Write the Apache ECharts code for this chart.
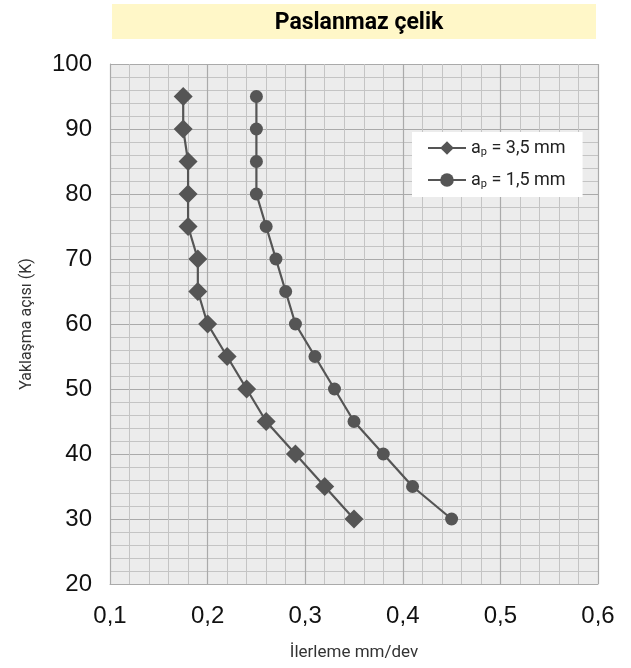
<!DOCTYPE html>
<html>
<head>
<meta charset="utf-8">
<script src="https://cdn.jsdelivr.net/npm/echarts@6/dist/echarts.min.js"></script>
<style>
  html, body { margin: 0; padding: 0; background: #fff; }
  #chart { width: 631px; height: 668px; }
</style>
</head>
<body>
<div id="chart"></div>
<script>
// yaklasma acisi (K)
var angles = [95, 90, 85, 80, 75, 70, 65, 60, 55, 50, 45, 40, 35, 30];
// ilerleme mm/dev
var feed35 = [0.175, 0.175, 0.18, 0.18, 0.18, 0.19, 0.19, 0.2, 0.22, 0.24, 0.26, 0.29, 0.32, 0.35];
var feed15 = [0.25, 0.25, 0.25, 0.25, 0.26, 0.27, 0.28, 0.29, 0.31, 0.33, 0.35, 0.38, 0.41, 0.45];
var seriesNames = ['ap35', 'ap15'];
var legendTexts = { ap35: ' = 3,5 mm', ap15: ' = 1,5 mm' };

var narrow = "Roboto, 'Liberation Sans', sans-serif";
var tickFont = "'Liberation Sans', Arial, sans-serif";

function pairs(xs) {
    var out = [];
    for (var i = 0; i < xs.length; i++) {
        out.push([xs[i], angles[i]]);
    }
    return out;
}

var chart = echarts.init(document.getElementById('chart'));

var option = {
    animation: false,
    backgroundColor: '#fff',
    title: {
        text: 'Paslanmaz çelik',
        left: 354,
        textAlign: 'center',
        top: 7,
        textStyle: { fontFamily: narrow, fontWeight: 'bold', fontSize: 23, color: '#000' }
    },
    graphic: [{
        type: 'rect',
        z: -1,
        shape: { x: 112, y: 4, width: 484, height: 35 },
        style: { fill: '#fff7c8' }
    }],
    grid: {
        left: 110, right: 33, top: 64, bottom: 84,
        show: true, backgroundColor: '#ececec', borderWidth: 0
    },
    legend: {
        orient: 'vertical',
        left: 412, top: 132,
        backgroundColor: '#fff',
        padding: [7, 17, 7, 15],
        itemWidth: 38, itemHeight: 17,
        itemGap: 13,
        data: seriesNames,
        formatter: function (name) {
            return '{a|a}{s|p}{a|' + legendTexts[name] + '}';
        },
        textStyle: {
            rich: {
                a: { fontFamily: narrow, fontSize: 18, color: '#222' },
                s: { fontFamily: narrow, fontSize: 11, color: '#222', verticalAlign: 'bottom', padding: [9, 0, 0, 0] }
            }
        }
    },
    xAxis: {
        type: 'value',
        min: 0.1, max: 0.6, interval: 0.1,
        name: 'İlerleme mm/dev',
        nameLocation: 'middle',
        nameGap: 60,
        nameTextStyle: { fontFamily: narrow, fontSize: 17, color: '#333' },
        axisLine: { show: true, onZero: false, lineStyle: { color: '#aaa' } },
        axisTick: { show: false },
        axisLabel: {
            margin: 20,
            fontFamily: tickFont, fontSize: 24, color: '#111',
            formatter: function (v) { return v.toFixed(1).replace('.', ','); }
        },
        splitLine: { show: true, lineStyle: { color: '#aaa', width: 1.2 } },
        minorTick: { show: false, splitNumber: 5 },
        minorSplitLine: { show: true, lineStyle: { color: '#c4c4c4', width: 1 } }
    },
    yAxis: {
        type: 'value',
        min: 20, max: 100, interval: 10,
        name: 'Yaklaşma açısı (K)',
        nameLocation: 'middle',
        nameGap: 75,
        nameRotate: 90,
        nameTextStyle: { fontFamily: narrow, fontSize: 16, color: '#333' },
        axisLine: { show: true, lineStyle: { color: '#aaa' } },
        axisTick: { show: false },
        axisLabel: {
            margin: 18,
            fontFamily: tickFont, fontSize: 24, color: '#111'
        },
        splitLine: { show: true, lineStyle: { color: '#aaa', width: 1.2 } },
        minorTick: { show: false, splitNumber: 5 },
        minorSplitLine: { show: true, lineStyle: { color: '#c4c4c4', width: 1 } }
    },
    series: [{
        name: seriesNames[0],
        type: 'line',
        data: pairs(feed35),
        symbol: 'diamond',
        symbolSize: 19,
        lineStyle: { color: '#555', width: 2.2 },
        itemStyle: { color: '#555' }
    }, {
        name: seriesNames[1],
        type: 'line',
        data: pairs(feed15),
        symbol: 'circle',
        symbolSize: 13,
        lineStyle: { color: '#555', width: 2.2 },
        itemStyle: { color: '#555' }
    }]
};

chart.setOption(option);
</script>
</body>
</html>
